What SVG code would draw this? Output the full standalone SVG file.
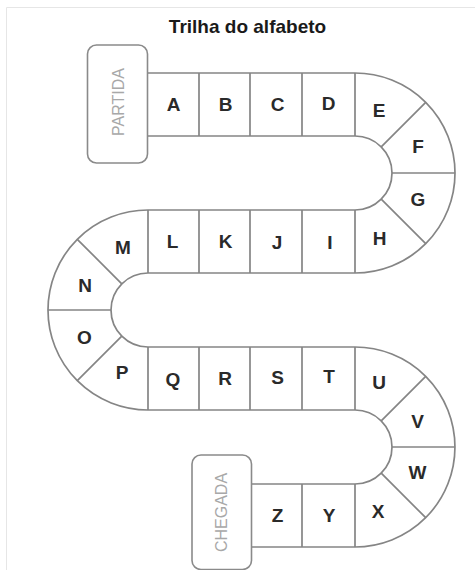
<svg xmlns="http://www.w3.org/2000/svg" width="475" height="570" viewBox="0 0 475 570">
<style>
.trk{fill:none;stroke:#858585;stroke-width:1.7}
.box{fill:#fff;stroke:#8a8a8a;stroke-width:1.6}
.lt{font-family:"Liberation Sans",Arial,sans-serif;font-size:19px;font-weight:bold;fill:#2a2a2a;text-anchor:middle}
.bt{font-family:"Liberation Sans",Arial,sans-serif;font-size:16px;fill:#a8a8a8;text-anchor:middle}
.title{font-family:"Liberation Sans",Arial,sans-serif;font-size:19px;font-weight:bold;fill:#1a1a1a;text-anchor:middle}
</style>
<rect width="475" height="570" fill="#fff"/>
<path d="M6.5 570 V7.5 H475" fill="none" stroke="#e6e6e6" stroke-width="1"/>
<text class="title" x="247.5" y="33">Trilha do alfabeto</text>
<g id="connectors">
<path class="trk" d="M147 73 H355 A100 100 0 0 1 355 273 H148 A37 37 0 0 0 148 347 H355 A100 100 0 0 1 355 547 H251"/>
<path class="trk" d="M147 136 H355 A37 37 0 0 1 355 210 H148 A100 100 0 0 0 148 410 H355 A37 37 0 0 1 355 484 H251"/>
<path class="trk" d="M199 73V136M250 73V136M302 73V136M355 73V136
M148 210V273M199 210V273M250 210V273M302 210V273M355 210V273
M148 347V410M199 347V410M250 347V410M302 347V410M355 347V410
M302 484V547M355 484V547
M381.2 146.8L425.7 102.3M392 173H455M381.2 199.2L425.7 243.7
M121.8 283.8L77.3 239.3M111 310H48M121.8 336.2L77.3 380.7
M381.2 420.8L425.7 376.3M392 447H455M381.2 473.2L425.7 517.7"/>
</g>
<g id="partida">
<rect class="box" x="87.5" y="45" width="60" height="118" rx="9"/>
<text class="bt" transform="translate(123.5,102) rotate(-90)">PARTIDA</text>
</g>
<g id="chegada">
<rect class="box" x="192" y="455" width="59.5" height="114.5" rx="9"/>
<text class="bt" transform="translate(226.5,512.5) rotate(-90)">CHEGADA</text>
</g>
<g id="cells">
<g id="A"><text class="lt" x="173.5" y="111">A</text></g>
<g id="B"><text class="lt" x="225.5" y="110.5">B</text></g>
<g id="C"><text class="lt" x="277.5" y="110.5">C</text></g>
<g id="D"><text class="lt" x="328.5" y="110">D</text></g>
<g id="E"><text class="lt" x="379" y="116.5">E</text></g>
<g id="F"><text class="lt" x="418" y="152.5">F</text></g>
<g id="G"><text class="lt" x="418" y="205.5">G</text></g>
<g id="H"><text class="lt" x="379.5" y="244.5">H</text></g>
<g id="I"><text class="lt" x="330" y="248.5">I</text></g>
<g id="J"><text class="lt" x="277" y="248.5">J</text></g>
<g id="K"><text class="lt" x="225.5" y="247.5">K</text></g>
<g id="L"><text class="lt" x="172.5" y="247.5">L</text></g>
<g id="M"><text class="lt" x="123" y="254">M</text></g>
<g id="N"><text class="lt" x="85" y="291.5">N</text></g>
<g id="O"><text class="lt" x="84.5" y="344">O</text></g>
<g id="P"><text class="lt" x="122" y="379">P</text></g>
<g id="Q"><text class="lt" x="173" y="385.5">Q</text></g>
<g id="R"><text class="lt" x="225" y="384.5">R</text></g>
<g id="S"><text class="lt" x="277.5" y="384">S</text></g>
<g id="T"><text class="lt" x="329" y="382.5">T</text></g>
<g id="U"><text class="lt" x="379" y="389">U</text></g>
<g id="V"><text class="lt" x="417.5" y="427.5">V</text></g>
<g id="W"><text class="lt" x="417.5" y="479">W</text></g>
<g id="X"><text class="lt" x="378" y="517.5">X</text></g>
<g id="Y"><text class="lt" x="329" y="521.5">Y</text></g>
<g id="Z"><text class="lt" x="277.5" y="521.5">Z</text></g>
</g>
</svg>
